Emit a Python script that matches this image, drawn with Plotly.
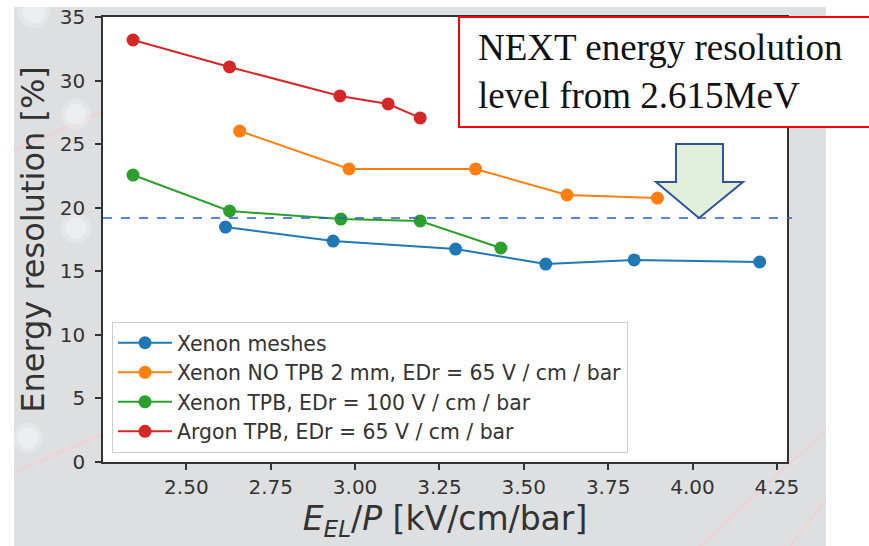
import plotly.graph_objects as go

# Measured energy resolution (%) versus reduced EL field E_EL/P (kV/cm/bar)
xenon_mesh_x = [2.616, 2.935, 3.298, 3.565, 3.827, 4.199]
xenon_mesh_y = [18.48, 17.38, 16.75, 15.57, 15.89, 15.73]

xenon_notpb_x = [2.658, 2.982, 3.357, 3.628, 3.896]
xenon_notpb_y = [26.03, 23.05, 23.05, 21.0, 20.76]

xenon_tpb_x = [2.342, 2.628, 2.958, 3.193, 3.432]
xenon_tpb_y = [22.57, 19.74, 19.11, 18.96, 16.83]

argon_tpb_x = [2.342, 2.628, 2.955, 3.098, 3.193]
argon_tpb_y = [33.19, 31.07, 28.79, 28.16, 27.06]

series_names = [
    "Xenon meshes",
    "Xenon NO TPB 2 mm, EDr = 65 V / cm / bar",
    "Xenon TPB, EDr = 100 V / cm / bar",
    "Argon TPB, EDr = 65 V / cm / bar",
]
series_colors = ["#1f77b4", "#ff7f0e", "#2ca02c", "#d62728"]

next_level = 19.19  # NEXT resolution reference level (%)
x_ticks = [2.50, 2.75, 3.00, 3.25, 3.50, 3.75, 4.00, 4.25]
y_ticks = [0, 5, 10, 15, 20, 25, 30, 35]

W, H = 869, 546
L, R, T, B = 103, 787, 17, 462  # plot area edges in pixels
BACKDROP = "#dedfe1"


def px(x, y):
    """Pixel position on the page -> paper coordinates."""
    return (x - L) / (R - L), (B - y) / (B - T)


def rect_px(x0, y0, x1, y1, **kw):
    a = px(x0, y1)
    b = px(x1, y0)
    return dict(xref="paper", yref="paper", x0=a[0], y0=a[1], x1=b[0], y1=b[1], **kw)


fig = go.Figure()
series = [
    (xenon_mesh_x, xenon_mesh_y),
    (xenon_notpb_x, xenon_notpb_y),
    (xenon_tpb_x, xenon_tpb_y),
    (argon_tpb_x, argon_tpb_y),
]
for (xs, ys), name, color in zip(series, series_names, series_colors):
    fig.add_trace(go.Scatter(
        x=xs, y=ys, name=name, mode="lines+markers",
        line=dict(color=color, width=2),
        marker=dict(color=color, size=13),
    ))

shapes = []
# faint decorative lines and soft discs on the slide backdrop
for (ax, ay, bx, by) in [(14, 150, 103, 112), (14, 472, 103, 434),
                         (700, 546, 826, 430), (790, 546, 826, 500)]:
    p0 = px(ax, ay)
    p1 = px(bx, by)
    shapes.append(dict(type="line", xref="paper", yref="paper", layer="below",
                       x0=p0[0], y0=p0[1], x1=p1[0], y1=p1[1],
                       line=dict(color="rgba(255,195,195,0.4)", width=3)))
for (cx, cy, r) in [(34, 12, 16), (76, 114, 15), (76, 228, 15), (28, 438, 15)]:
    for k, alpha in [(1.0, 0.3), (0.7, 0.4)]:
        shapes.append(dict(type="circle", layer="below",
                           fillcolor=f"rgba(248,250,255,{alpha})", line=dict(width=0),
                           **rect_px(cx - r * k, cy - r * k, cx + r * k, cy + r * k)))
# white page outside the slide backdrop
for (x0, y0, x1, y1) in [(0, 0, W, 7), (826, 0, W, H), (0, 0, 14, H)]:
    shapes.append(dict(type="rect", layer="below", fillcolor="white",
                       line=dict(width=0), **rect_px(x0, y0, x1, y1)))

# dashed reference level
shapes.append(dict(type="line", xref="paper", yref="y",
                   x0=0, x1=px(792, 0)[0], y0=next_level, y1=next_level,
                   line=dict(color="#1f5fd6", width=1.3, dash="dash")))

# callout box
shapes.append(dict(type="rect", fillcolor="white",
                   line=dict(color="#ff0000", width=2),
                   **rect_px(459, 17, 875, 127)))

# downward block arrow
arrow_px = [(676, 144), (723, 144), (723, 182), (743, 182),
            (699, 218), (656, 182), (676, 182)]
pts = [px(a, b) for a, b in arrow_px]
path = "M " + " L ".join(f"{a:.4f},{b:.4f}" for a, b in pts) + " Z"
shapes.append(dict(type="path", xref="paper", yref="paper", path=path,
                   fillcolor="#e2efda", line=dict(color="#2f5597", width=2)))

tx, ty = px(476, 72)
fig.add_annotation(
    xref="paper", yref="paper", x=tx, y=ty, xanchor="left", yanchor="middle",
    text="NEXT energy resolution<br>level from 2.615MeV", showarrow=False,
    align="left",
    font=dict(family="Liberation Serif, Times New Roman, serif", size=37, color="#111"),
)

tick_font = dict(family="DejaVu Sans", size=20, color="#333")
fig.update_layout(
    width=W, height=H,
    margin=dict(l=L, r=W - R, t=T, b=H - B, pad=0, autoexpand=False),
    paper_bgcolor=BACKDROP, plot_bgcolor="white",
    shapes=shapes,
    showlegend=True,
    legend=dict(
        x=px(112, 0)[0], y=px(0, 322)[1], xanchor="left", yanchor="top",
        bgcolor="white", bordercolor="#cccccc", borderwidth=1,
        font=dict(family="DejaVu Sans", size=20.4, color="#333"),
        itemwidth=54,
    ),
    xaxis=dict(
        range=[2.253, 4.28], tickvals=x_ticks, tickformat=".2f",
        ticks="outside", ticklen=6, tickwidth=1.5, tickcolor="#333",
        showline=True, linecolor="#333", linewidth=1.5, mirror=True,
        showgrid=False, zeroline=False, tickfont=tick_font, automargin=False,
        title=dict(text="<i>E<sub>EL</sub></i>/<i>P</i> [kV/cm/bar]",
                   font=dict(family="DejaVu Sans", size=33, color="#333"), standoff=8),
    ),
    yaxis=dict(
        range=[0, 35], tickvals=y_ticks,
        ticks="outside", ticklen=6, tickwidth=1.5, tickcolor="#333",
        showline=True, linecolor="#333", linewidth=1.5, mirror=True,
        showgrid=False, zeroline=False, tickfont=tick_font, automargin=False,
        ticklabelstandoff=6,
        title=dict(text="Energy resolution [%]",
                   font=dict(family="DejaVu Sans", size=32, color="#333"), standoff=6),
    ),
)

fig.write_html("out.html")
